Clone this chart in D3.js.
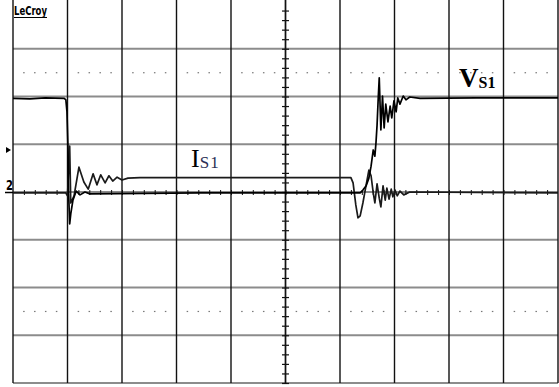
<!DOCTYPE html>
<html>
<head>
<meta charset="utf-8">
<script src="https://cdn.jsdelivr.net/npm/d3@7"></script>
<style>
  html, body { margin: 0; padding: 0; background: #fff; }
  svg { display: block; }
</style>
</head>
<body>
<script>
// Scope screen: 10 horizontal x 8 vertical divisions.
const xDivs = [0, 1, 2, 3, 4, 5, 6, 7, 8, 9, 10];
const yDivs = [-4, -3, -2, -1, 0, 1, 2, 3];
const dottedRows = [2.5, -2.5];

// V_S1 trace: [time (div), level (div)]
const vsTrace = [
  [0, 1.96], [0.31, 1.95], [0.59, 1.97], [0.94, 1.96], [0.97, 1.93], [0.99, 1.68],
  [1.01, 0.88], [1.02, -0.02], [1.04, -0.67], [1.06, -0.46], [1.10, -0.17],
  [1.16, 0.02], [1.23, -0.06], [1.32, 0], [1.41, -0.04], [3.43, -0.02],
  [6.37, -0.02], [6.42, 0.04], [6.48, 0.13], [6.53, 0.29], [6.57, 0.54],
  [6.61, 0.88], [6.64, 0.75], [6.66, 1.03], [6.68, 1.40], [6.70, 1.93],
  [6.72, 2.39], [6.75, 1.30], [6.78, 2.01], [6.81, 1.34], [6.84, 1.84],
  [6.88, 1.47], [6.92, 1.80], [6.95, 1.55], [6.99, 1.91], [7.03, 1.68],
  [7.06, 1.97], [7.10, 1.84], [7.16, 2.01], [7.21, 1.93], [7.28, 1.99],
  [7.47, 1.96], [8.5, 1.97], [10, 1.97]
];

// I_S1 trace: [time (div), level (div)]
const isTrace = [
  [0, -0.02], [0.97, -0.02], [1.00, -0.08], [1.04, 0.96], [1.06, -0.23],
  [1.12, -0.08], [1.21, 0.52], [1.30, 0.21], [1.38, 0.06], [1.47, 0.38],
  [1.54, 0.15], [1.61, 0.36], [1.69, 0.19], [1.76, 0.34], [1.83, 0.23],
  [1.91, 0.31], [2.00, 0.25], [2.11, 0.29], [2.33, 0.30], [6.20, 0.30],
  [6.24, 0.19], [6.29, -0.27], [6.33, -0.54], [6.37, -0.50], [6.42, -0.23],
  [6.48, 0.15], [6.53, 0.46], [6.57, 0.34], [6.61, -0.02], [6.64, -0.23],
  [6.68, 0.17], [6.72, -0.13], [6.75, -0.31], [6.79, 0.13], [6.83, -0.17],
  [6.86, 0.08], [6.90, -0.15], [6.94, 0.06], [6.97, -0.10], [7.01, 0.04],
  [7.05, -0.08], [7.10, 0.02], [7.17, -0.06], [7.28, 0], [10, -0.02]
];

const W = 559, H = 387;
const svg = d3.select("body").append("svg")
  .attr("width", W).attr("height", H)
  .attr("viewBox", `0 0 ${W} ${H}`);

const x = d3.scaleLinear().domain([0, 10]).range([13, 558]);
const y = d3.scaleLinear().domain([-4, 4]).range([383, 1]);

// Horizontal graticule (grey)
svg.append("g").selectAll("line").data(yDivs).join("line")
  .attr("x1", x(0)).attr("x2", x(10))
  .attr("y1", d => y(d)).attr("y2", d => y(d))
  .attr("stroke", "#8c8c8c").attr("stroke-width", 2);

// Vertical graticule (black)
svg.append("g").selectAll("line").data(xDivs).join("line")
  .attr("x1", d => x(d)).attr("x2", d => x(d))
  .attr("y1", 0).attr("y2", y(-4))
  .attr("stroke", "#111").attr("stroke-width", 1.4);

// Dotted sub-rows at +/- 2.5 div
const dotX = d3.range(0, 50).map(i => i / 5).filter(v => Math.abs(v - Math.round(v)) > 1e-6);
dottedRows.forEach(r => {
  svg.append("g").selectAll("rect").data(dotX).join("rect")
    .attr("x", d => x(d) - 0.75).attr("y", y(r) - 0.5)
    .attr("width", 1.5).attr("height", 1.2)
    .attr("fill", "#777");
});

// Centre axes with minor ticks (5 per division)
const axisV = d3.axisRight(y).tickValues(d3.range(-20, 20).map(i => i / 5)).tickSize(7).tickFormat("");
svg.append("g").attr("transform", `translate(${x(5) - 3.5},0)`).call(axisV)
  .call(g => g.select(".domain").remove())
  .call(g => g.selectAll("line").attr("stroke", "#111").attr("stroke-width", 1.2));
svg.append("line").attr("x1", x(5)).attr("x2", x(5)).attr("y1", 0).attr("y2", y(-4))
  .attr("stroke", "#111").attr("stroke-width", 1.4);

const axisH = d3.axisBottom(x).tickValues(d3.range(1, 50).map(i => i / 5)).tickSize(5).tickFormat("");
svg.append("g").attr("transform", `translate(0,${y(0) - 2})`).call(axisH)
  .call(g => g.select(".domain").remove())
  .call(g => g.selectAll("line").attr("stroke", "#111").attr("stroke-width", 1));

// Traces
const line = d3.line().x(d => x(d[0])).y(d => y(d[1]));
svg.append("path").datum(isTrace).attr("d", line)
  .attr("fill", "none").attr("stroke", "#1a1a1a").attr("stroke-width", 1.7)
  .attr("stroke-linejoin", "round");
svg.append("path").datum(vsTrace).attr("d", line)
  .attr("fill", "none").attr("stroke", "#000").attr("stroke-width", 1.7)
  .attr("stroke-linejoin", "round");

// Trace labels
const vLab = svg.append("text").attr("x", 459).attr("y", 87)
  .attr("font-family", "Liberation Serif, serif").attr("font-weight", "bold").attr("fill", "#000");
vLab.append("tspan").attr("font-size", 27).text("V");
vLab.append("tspan").attr("font-size", 16).attr("dy", 1).text("S1");

const iLab = svg.append("text").attr("x", 191).attr("y", 167)
  .attr("font-family", "Liberation Serif, serif").attr("fill", "#000");
iLab.append("tspan").attr("font-size", 26).text("I");
iLab.append("tspan").attr("font-size", 17).attr("dy", 1).attr("fill", "#2c2f55")
  .attr("letter-spacing", 1).text("S1");

// Scope brand mark
svg.append("text").attr("x", 14).attr("y", 15)
  .attr("font-family", "DejaVu Sans, sans-serif").attr("font-weight", "bold")
  .attr("font-size", 12.5).attr("textLength", 33).attr("lengthAdjust", "spacingAndGlyphs")
  .text("LeCroy");
svg.append("line").attr("x1", 14).attr("x2", 47).attr("y1", 17.5).attr("y2", 17.5)
  .attr("stroke", "#000").attr("stroke-width", 1.2);

// Channel markers on the left edge
svg.append("path").attr("d", "M6,147 L11,150 L6,153 Z").attr("fill", "#000");
svg.append("text").attr("x", 6).attr("y", 190)
  .attr("font-family", "DejaVu Sans, sans-serif").attr("font-weight", "bold")
  .attr("font-size", 14).attr("textLength", 7).attr("lengthAdjust", "spacingAndGlyphs")
  .text("2");
svg.append("line").attr("x1", 5).attr("x2", 13).attr("y1", y(0) + 0.5).attr("y2", y(0) + 0.5)
  .attr("stroke", "#000").attr("stroke-width", 1.5);
</script>
</body>
</html>
